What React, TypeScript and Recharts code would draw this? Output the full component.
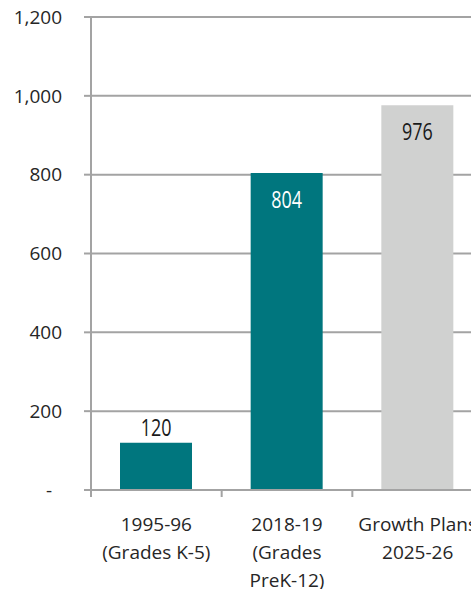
import React from 'react';
import { BarChart, Bar, XAxis, YAxis, CartesianGrid, Cell, LabelList } from 'recharts';

const categories = [
  ['1995-96', '(Grades K-5)'],
  ['2018-19', '(Grades', 'PreK-12)'],
  ['Growth Plans', '2025-26'],
];
const enrollment = [120, 804, 976];
const yTicks = [0, 200, 400, 600, 800, 1000, 1200];
const barColors = ['#00767e', '#00767e', '#d0d1d0'];
const labelColors = ['#1a1a1a', '#ffffff', '#1a1a1a'];
const labelInside = [false, true, true];

const data = categories.map((lines, i) => ({ name: lines.join('|'), value: enrollment[i] }));

const CHART_W = 483;
const CHART_H = 589;
const Y_AXIS_W = 91;
const BAND = (CHART_W - Y_AXIS_W) / categories.length;
const GRID = '#a3a3a3';
const FONT = '"Open Sans", "Noto Sans", sans-serif';

const XTick = (props: any) => {
  const { x, y, payload } = props;
  const lines = String(payload.value).split('|');
  return (
    <g>
      <line x1={x - BAND / 2} y1={y} x2={x - BAND / 2} y2={y + 7} stroke={GRID} strokeWidth={2} />
      <text x={x} y={y + 41} textAnchor="middle" fill="#262626" fontSize={19} fontFamily={FONT}>
        {lines.map((l, i) => (
          <tspan key={i} x={x} dy={i === 0 ? 0 : 28}>
            {l}
          </tspan>
        ))}
      </text>
    </g>
  );
};

const renderValueLabel = (props: any) => {
  const { x, y, width, value } = props;
  let idx = props.index;
  if (idx === undefined) idx = enrollment.indexOf(Number(value));
  const cx = Number(x) + Number(width) / 2;
  const ty = labelInside[idx] ? Number(y) + 26 : Number(y) - 16;
  return (
    <text
      transform={`translate(${cx},${ty}) scale(0.78,1)`}
      x={0}
      y={0}
      textAnchor="middle"
      dominantBaseline="central"
      fill={labelColors[idx]}
      fontSize={23}
      fontWeight={500}
      fontFamily={FONT}
    >
      {value}
    </text>
  );
};

export default function App() {
  return (
    <div
      style={{
        position: 'absolute',
        left: 0,
        top: 0,
        width: 471,
        height: 589,
        overflow: 'hidden',
        background: '#fff',
      }}
    >
      <BarChart
        width={CHART_W}
        height={CHART_H}
        data={data}
        margin={{ top: 17, right: 0, bottom: 0, left: 0 }}
      >
        <CartesianGrid vertical={false} stroke={GRID} strokeWidth={2} />
        <XAxis
          dataKey="name"
          height={99}
          axisLine={{ stroke: GRID, strokeWidth: 2 }}
          tickLine={false}
          tickSize={0}
          tickMargin={0}
          tick={<XTick />}
          interval={0}
        />
        <YAxis
          width={Y_AXIS_W}
          domain={[0, 1200]}
          ticks={yTicks}
          interval={0}
          axisLine={{ stroke: GRID, strokeWidth: 2 }}
          tickLine={{ stroke: GRID, strokeWidth: 2 }}
          tickSize={7}
          tickMargin={22}
          tick={{ fill: '#262626', fontSize: 19, fontFamily: FONT }}
          tickFormatter={(v: number) => (v === 0 ? '-\u00A0\u00A0' : v.toLocaleString('en-US'))}
        />
        <Bar dataKey="value" barSize={72} isAnimationActive={false}>
          {data.map((d, i) => (
            <Cell key={d.name} fill={barColors[i]} />
          ))}
          <LabelList dataKey="value" content={renderValueLabel} />
        </Bar>
      </BarChart>
    </div>
  );
}
